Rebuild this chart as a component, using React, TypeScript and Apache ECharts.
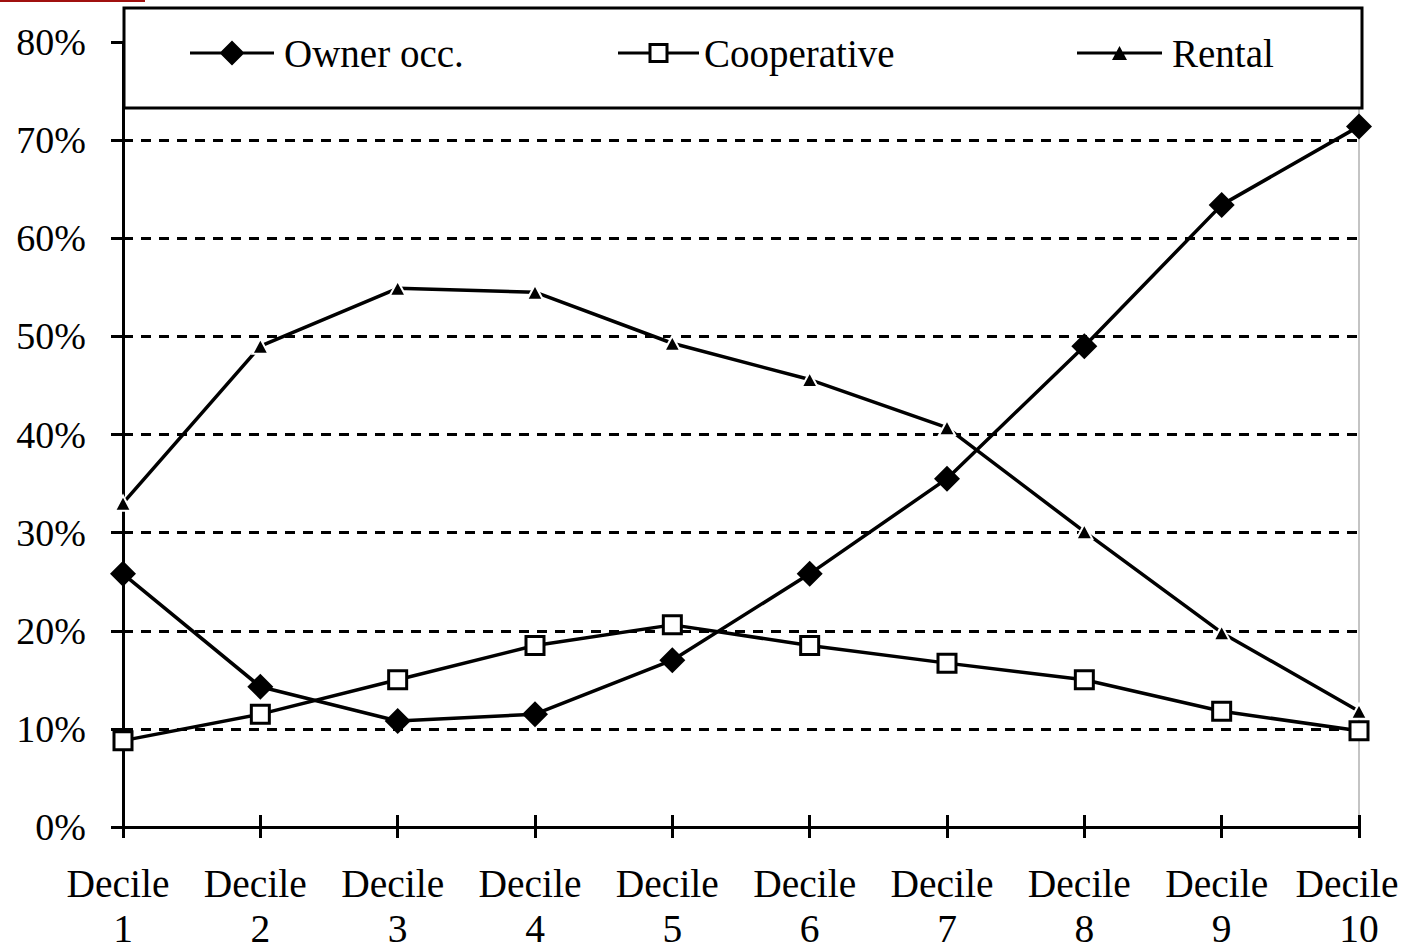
import React, { useEffect, useRef } from "react";
import * as echarts from "echarts";

const categories = [
  "Decile 1", "Decile 2", "Decile 3", "Decile 4", "Decile 5",
  "Decile 6", "Decile 7", "Decile 8", "Decile 9", "Decile 10",
];
const ownerOcc = [25.8, 14.3, 10.8, 11.5, 17.0, 25.8, 35.5, 49.0, 63.4, 71.4];
const cooperative = [8.8, 11.5, 15.0, 18.5, 20.6, 18.5, 16.7, 15.0, 11.8, 9.8];
const rental = [33.0, 49.0, 54.9, 54.5, 49.3, 45.6, 40.7, 30.1, 19.8, 11.8];
const seriesNames = ["Owner occ.", "Cooperative", "Rental"];

const FONT = "'Liberation Serif', 'Times New Roman', serif";

const ICON_OWNER =
  "path://M0 11.5 H84 V14.5 H0 Z M42 0.5 L54.5 13 L42 25.5 L29.5 13 Z";
const ICON_COOP =
  "path://M0 11.5 H30.5 V14.5 H0 Z M50.5 11.5 H81 V14.5 H50.5 Z M30.5 3 H50.5 V23 H30.5 Z M33.5 6 V20 H47.5 V6 Z";
const ICON_RENTAL =
  "path://M0 11.5 H85 V14.5 H0 Z M42.5 6 L50 20 L35 20 Z";

export default function App() {
  const ref = useRef<HTMLDivElement>(null);

  useEffect(() => {
    if (!ref.current) return;
    const chart = echarts.init(ref.current, null, { renderer: "svg" });

    const legendBase = (name: string, icon: string, left: number, w: number, padLeft: number) => ({
      show: true,
      left,
      top: 33,
      padding: 0,
      z: 20,
      itemWidth: w,
      itemHeight: 26,
      symbolKeepAspect: true,
      selectedMode: false,
      data: [{ name, icon, itemStyle: { color: "#000", borderWidth: 0 } }],
      textStyle: {
        fontFamily: FONT,
        fontSize: 39,
        lineHeight: 40,
        color: "#000",
        padding: [0, 0, 0, padLeft],
      },
    });

    const labelTok = { fontFamily: FONT, fontSize: 39.5, lineHeight: 45, color: "#000" };
    const lastCat = categories[categories.length - 1];

    const option: any = {
      animation: false,
      backgroundColor: "#fff",
      grid: {
        left: 123,
        right: 50,
        top: 42,
        bottom: 125,
        outerBoundsMode: "none",
        containLabel: false,
        show: true,
        borderColor: "#c4c4c4",
        borderWidth: 2,
        backgroundColor: "transparent",
      },
      legend: [
        legendBase(seriesNames[0], ICON_OWNER, 190, 84, 5),
        legendBase(seriesNames[1], ICON_COOP, 618, 81, 0),
        legendBase(seriesNames[2], ICON_RENTAL, 1077, 85, 5),
      ],
      graphic: [
        {
          type: "rect",
          z: 10,
          shape: { x: 124, y: 8, width: 1238, height: 100 },
          style: { fill: "#fff", stroke: "#000", lineWidth: 3 },
        },
        {
          type: "rect",
          z: 10,
          shape: { x: 0, y: 0, width: 145, height: 2 },
          style: { fill: "#a0100f" },
        },
      ],
      xAxis: [
        {
          type: "category",
          data: categories,
          boundaryGap: false,
          position: "bottom",
          axisLine: { show: true, lineStyle: { color: "#000", width: 3 } },
          axisTick: {
            show: true,
            length: 11,
            interval: 0,
            lineStyle: { color: "#000", width: 3 },
          },
          axisLabel: {
            interval: 0,
            margin: 34,
            color: "#000",
            fontFamily: FONT,
            fontSize: 39.5,
            lineHeight: 45,
            formatter: (v: string) => {
              const [word, num] = v.split(" ");
              const key = v === lastCat ? "z" : "a";
              return `{${key}|${word}}\n{n|${num}}`;
            },
            rich: {
              a: { ...labelTok, padding: [0, 10, 0, 0] },
              z: { ...labelTok, padding: [0, 24, 0, 0] },
              n: { ...labelTok },
            },
          },
          splitLine: { show: false },
        },
        {
          type: "category",
          data: categories,
          boundaryGap: false,
          position: "top",
          offset: -785,
          axisLine: { show: false },
          axisTick: {
            show: true,
            length: 12,
            interval: 0,
            lineStyle: { color: "#000", width: 3 },
          },
          axisLabel: { show: false },
          splitLine: { show: false },
        },
      ],
      yAxis: {
        type: "value",
        min: 0,
        max: 80,
        interval: 10,
        axisLine: { show: true, lineStyle: { color: "#000", width: 3 } },
        axisTick: { show: true, length: 12, lineStyle: { color: "#000", width: 3 } },
        axisLabel: {
          margin: 37,
          color: "#000",
          fontFamily: FONT,
          fontSize: 38,
          formatter: "{value}%",
        },
        splitLine: {
          show: true,
          lineStyle: { color: "#000", width: 3, type: [10, 8] },
        },
      },
      series: [
        {
          name: seriesNames[0],
          type: "line",
          data: ownerOcc,
          clip: false,
          symbol: "diamond",
          symbolSize: 26,
          lineStyle: { color: "#000", width: 3.5 },
          itemStyle: { color: "#000" },
          z: 3,
        },
        {
          name: seriesNames[1],
          type: "line",
          data: cooperative,
          clip: false,
          symbol: "rect",
          symbolSize: 18,
          lineStyle: { color: "#000", width: 3.5 },
          itemStyle: { color: "#fff", borderColor: "#000", borderWidth: 3 },
          z: 3,
        },
        {
          name: seriesNames[2],
          type: "line",
          data: rental,
          clip: false,
          symbol: "triangle",
          symbolSize: [16, 15],
          lineStyle: { color: "#000", width: 3.5 },
          itemStyle: { color: "#000", borderColor: "#fff", borderWidth: 2 },
          z: 3,
        },
      ],
    };

    chart.setOption(option);
    return () => chart.dispose();
  }, []);

  return (
    <div
      ref={ref}
      style={{ position: "fixed", left: 0, top: 0, width: 1409, height: 952 }}
    />
  );
}
